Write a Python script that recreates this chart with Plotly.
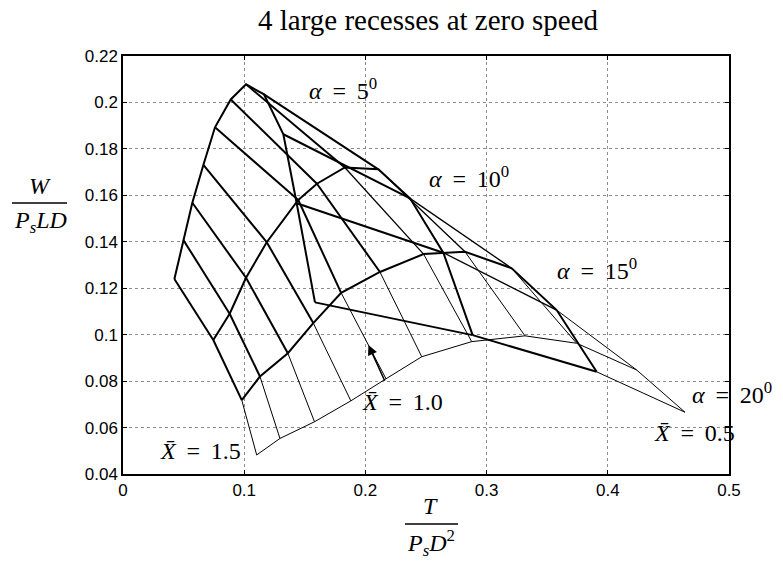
import plotly.graph_objects as go

# ---- carpet data: T/(PsD^2) and W/(PsLD) for each alpha; points ordered from X-bar = 1.5 to X-bar = 0.5 ----
alphas = [5, 10, 15, 20]
T_a5 = [0.0424, 0.0498, 0.0572, 0.0663, 0.0759, 0.0889, 0.1015, 0.1163, 0.1323, 0.1433, 0.1584]
W_a5 = [0.1240, 0.1408, 0.1568, 0.1731, 0.1893, 0.2013, 0.2078, 0.2035, 0.1863, 0.1566, 0.1139]
T_a10 = [0.0745, 0.0880, 0.1015, 0.1186, 0.1446, 0.1600, 0.1830, 0.2107, 0.2368, 0.2643, 0.2885]
W_a10 = [0.0977, 0.1090, 0.1245, 0.1398, 0.1580, 0.1650, 0.1720, 0.1712, 0.1587, 0.1353, 0.0998]
T_a15 = [0.0980, 0.1130, 0.1360, 0.1570, 0.1800, 0.2120, 0.2480, 0.2822, 0.3207, 0.3578, 0.3908]
W_a15 = [0.0718, 0.0820, 0.0920, 0.1050, 0.1180, 0.1270, 0.1347, 0.1357, 0.1286, 0.1106, 0.0840]
T_a20 = [0.1103, 0.1295, 0.1580, 0.1880, 0.2170, 0.2465, 0.2877, 0.3317, 0.3743, 0.4238, 0.4637]
W_a20 = [0.0482, 0.0553, 0.0625, 0.0715, 0.0810, 0.0905, 0.0970, 0.0995, 0.0963, 0.0848, 0.0666]

T_curves = [T_a5, T_a10, T_a15, T_a20]
W_curves = [W_a5, W_a10, W_a15, W_a20]
alpha_width = [2, 2, 2, 1]

x_ticks = [0, 0.1, 0.2, 0.3, 0.4, 0.5]
y_ticks = [0.04, 0.06, 0.08, 0.1, 0.12, 0.14, 0.16, 0.18, 0.2, 0.22]

fig = go.Figure()
def seg(xs, ys, w):
    fig.add_trace(go.Scatter(x=xs, y=ys, mode="lines", line=dict(color="black", width=w),
                             showlegend=False, hoverinfo="skip"))

# constant-alpha curves
for Tc, Wc, w in zip(T_curves, W_curves, alpha_width):
    seg(Tc, Wc, w)
# constant X-bar lines (alpha 5 -> 10 -> 15 -> 20)
n = len(T_a5)
for j in range(n):
    for i in range(3):
        if i == 0:
            w = 2
        elif i == 1:
            w = 1.3 if 6 <= j <= 9 else 2
        else:
            w = 1
        seg([T_curves[i][j], T_curves[i + 1][j]], [W_curves[i][j], W_curves[i + 1][j]], w)

axis_common = dict(showline=True, linecolor="black", linewidth=1.5, mirror="ticks",
                   ticks="inside", ticklen=4, tickcolor="black",
                   showgrid=True, gridcolor="#8c8c8c", griddash="dot", gridwidth=1,
                   zeroline=False, tickfont=dict(family="Liberation Sans", size=17, color="black"))
fig.update_xaxes(range=[0, 0.5], tickvals=x_ticks, ticktext=[f"{v:g}" for v in x_ticks], **axis_common)
fig.update_yaxes(range=[0.04, 0.22], tickvals=y_ticks, ticktext=[f"{v:g}" for v in y_ticks], **axis_common)

serif = "Liberation Serif"
W_, H_ = 783, 561
l, r, t, b = 123, 54, 56, 87
pw, ph = W_ - l - r, H_ - t - b
def px(xp): return (xp - l) / pw
def py(yp): return (H_ - b - yp) / ph

anns = []
def lab(x, y, text, anchor="left", size=24):
    anns.append(dict(x=x, y=y, xref="x", yref="y", text=text, showarrow=False,
                     xanchor=anchor, yanchor="middle",
                     font=dict(family=serif, size=size, color="black")))

EQ = "\u00a0\u2009=\u2009\u00a0"
lab(0.1518, 0.2060, "<i>α</i>" + EQ + "5<sup>0</sup>")
lab(0.2508, 0.1677, "<i>α</i>" + EQ + "10<sup>0</sup>")
lab(0.3564, 0.1283, "<i>α</i>" + EQ + "15<sup>0</sup>")
lab(0.4678, 0.0749, "<i>α</i>" + EQ + "20<sup>0</sup>")
lab(0.4365, 0.0576, "<i>X̄</i>" + EQ + "0.5")
lab(0.0289, 0.0497, "<i>X̄</i>" + EQ + "1.5")
lab(0.2657, 0.0710, "<i>X̄</i>" + EQ + "1.0", anchor="right")
anns.append(dict(x=0.2025, y=0.0955, ax=0.2165, ay=0.0795, xref="x", yref="y", axref="x", ayref="y",
                 text="", showarrow=True, arrowhead=2, arrowsize=1.3, arrowwidth=1.5, arrowcolor="black"))

def plab(xp, yp, text, size=24):
    anns.append(dict(x=px(xp), y=py(yp), xref="paper", yref="paper", text=text, showarrow=False,
                     xanchor="center", yanchor="middle",
                     font=dict(family=serif, size=size, color="black")))
plab(40, 186, "<i>W</i>")
plab(40, 222, "<i>P<sub>s</sub>LD</i>")
plab(430, 506, "<i>T</i>")
plab(431, 543, "<i>P<sub>s</sub>D</i><sup>2</sup>")

fig.update_layout(
    width=783, height=561,
    margin=dict(l=l, r=r, t=t, b=b),
    plot_bgcolor="white", paper_bgcolor="white",
    title=dict(text="4 large recesses at zero speed", x=px(428), xref="paper", xanchor="center",
               y=1 - 20 / H_, yanchor="middle",
               font=dict(family=serif, size=29, color="black")),
    annotations=anns,
)
fig.add_shape(type="line", xref="paper", yref="paper", x0=px(12), x1=px(67), y0=py(203), y1=py(203),
              line=dict(color="black", width=1.5))
fig.add_shape(type="line", xref="paper", yref="paper", x0=px(405), x1=px(458), y0=py(524), y1=py(524),
              line=dict(color="black", width=1.5))

fig.write_html("out.html")
